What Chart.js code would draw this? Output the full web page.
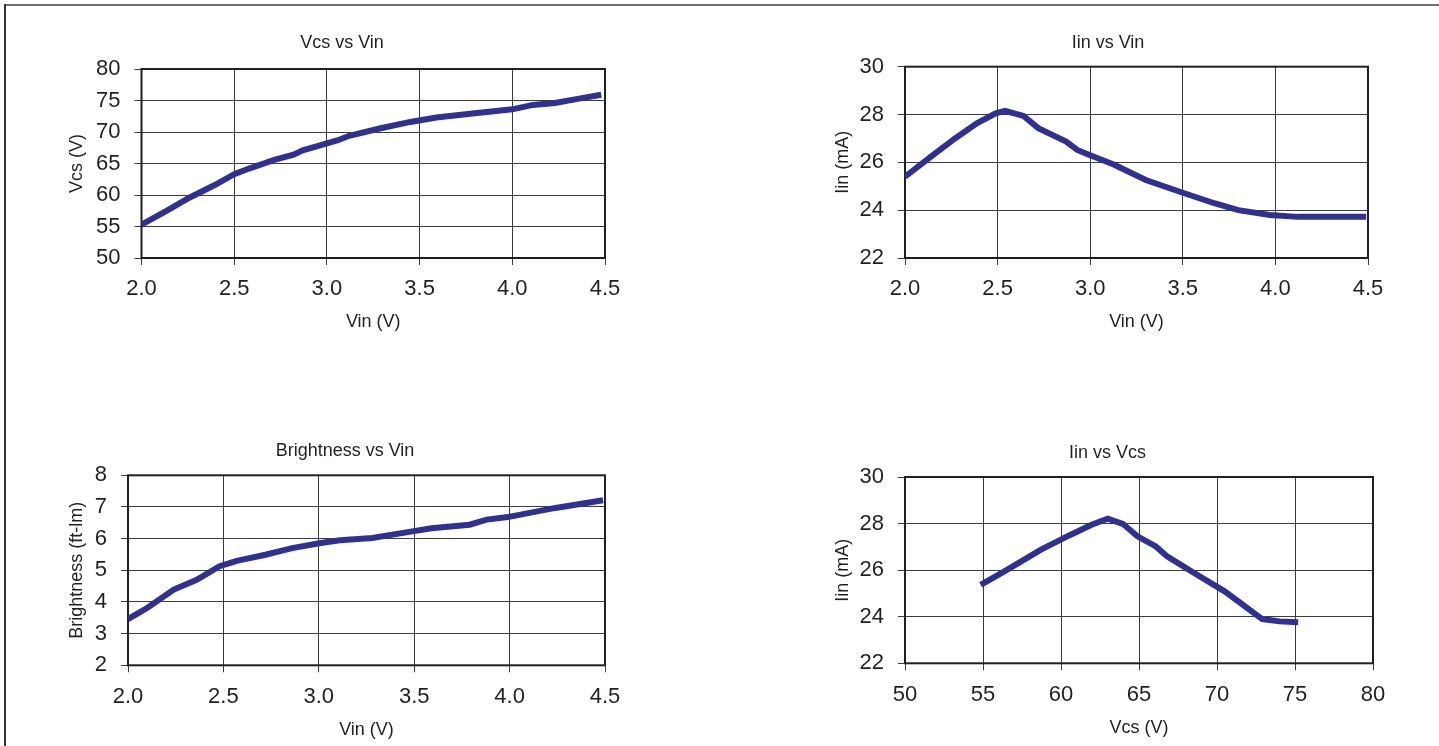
<!DOCTYPE html>
<html>
<head>
<meta charset="utf-8">
<script src="https://cdn.jsdelivr.net/npm/chart.js@4.4.0/dist/chart.umd.min.js"></script>
<style>
  html, body { margin: 0; padding: 0; background: #fff; width: 1439px; height: 746px; overflow: hidden; }
  body { position: relative; }
  .frame-top { position: absolute; left: 4px; top: 4px; width: 1435px; height: 2px; background: #707070; }
  .frame-left { position: absolute; left: 4px; top: 4px; width: 2px; height: 742px; background: #333; }
  .box { position: absolute; }
</style>
</head>
<body>
<div class="frame-top"></div>
<div class="frame-left"></div>
<div class="box" style="left:62px;top:32px;width:560px;height:305px"><canvas id="vcsVin"></canvas></div>
<div class="box" style="left:828px;top:32px;width:560px;height:305px"><canvas id="iinVin"></canvas></div>
<div class="box" style="left:62px;top:440px;width:566px;height:305px"><canvas id="brightVin"></canvas></div>
<div class="box" style="left:828px;top:442px;width:559px;height:301px"><canvas id="iinVcs"></canvas></div>

<script>
// --- data ---
const vin1 = [2.00, 2.13, 2.26, 2.39, 2.50, 2.58, 2.72, 2.82, 2.87, 3.00, 3.06, 3.12, 3.29, 3.45, 3.59, 3.81, 4.00, 4.11, 4.23, 4.36, 4.48];
const vcs1 = [55.3, 57.4, 59.6, 61.5, 63.3, 64.2, 65.6, 66.4, 67.1, 68.2, 68.7, 69.4, 70.6, 71.6, 72.3, 73.0, 73.6, 74.3, 74.6, 75.3, 75.9];

const vin2 = [2.00, 2.14, 2.27, 2.39, 2.49, 2.54, 2.64, 2.72, 2.87, 2.93, 3.00, 3.13, 3.30, 3.50, 3.67, 3.80, 3.97, 4.12, 4.49];
const iin2 = [25.40, 26.24, 27.00, 27.64, 28.05, 28.15, 27.94, 27.43, 26.87, 26.52, 26.30, 25.90, 25.26, 24.73, 24.29, 24.00, 23.80, 23.72, 23.72];

const vin3 = [2.00, 2.10, 2.24, 2.36, 2.48, 2.57, 2.72, 2.86, 3.01, 3.11, 3.28, 3.49, 3.59, 3.79, 3.88, 3.99, 4.24, 4.49];
const bright3 = [3.46, 3.81, 4.39, 4.70, 5.13, 5.30, 5.49, 5.70, 5.86, 5.95, 6.02, 6.23, 6.33, 6.44, 6.60, 6.68, 6.97, 7.21];

const vcs4 = [54.85, 56.37, 58.72, 60.49, 61.96, 62.99, 63.96, 64.90, 66.08, 66.80, 68.72, 70.49, 72.90, 74.00, 75.20];
const iin4 = [25.37, 25.95, 26.88, 27.48, 27.95, 28.21, 27.99, 27.45, 27.02, 26.59, 25.80, 25.09, 23.90, 23.80, 23.76];

// tick labels
const vinTicks = [2.0, 2.5, 3.0, 3.5, 4.0, 4.5];
const vcsTicks = [50, 55, 60, 65, 70, 75, 80];
const iinTicks = [22, 24, 26, 28, 30];
const brightTicks = [2, 3, 4, 5, 6, 7, 8];

const LINE_COLOR = '#2e3192';
const TEXT_COLOR = '#231f20';
const GRID_COLOR = '#3c3c3c';

Chart.defaults.font.family = '"Liberation Sans", Arial, Helvetica, sans-serif';
Chart.defaults.color = TEXT_COLOR;

// black frame round the plot area, under the curve
const plotFrame = {
    id: 'plotFrame',
    beforeDatasetsDraw(chart) {
        const {ctx, chartArea: {left, top, right, bottom}} = chart;
        ctx.save();
        ctx.strokeStyle = TEXT_COLOR;
        ctx.lineWidth = 2;
        ctx.strokeRect(left, top, right - left, bottom - top);
        ctx.restore();
    }
};

function axis(ticks, title, extra) {
    return Object.assign({
        type: 'linear',
        min: ticks[0],
        max: ticks[ticks.length - 1],
        afterBuildTicks: ax => { ax.ticks = ticks.map(v => ({value: v})); },
        grid: {color: GRID_COLOR, lineWidth: 1, tickLength: 7, drawTicks: true},
        border: {display: false},
        title: {display: true, text: title, font: {size: 18}, color: TEXT_COLOR, padding: {top: 4, bottom: 4}}
    }, extra);
}

function buildChart(id, xs, ys, o) {
    return new Chart(document.getElementById(id), {
        type: 'line',
        data: {
            datasets: [{
                data: xs.map((x, i) => ({x: x, y: ys[i]})),
                borderColor: LINE_COLOR,
                borderWidth: 6,
                pointRadius: 0,
                tension: 0,
                fill: false
            }]
        },
        options: {
            responsive: true,
            maintainAspectRatio: false,
            animation: false,
            layout: {padding: 0},
            plugins: {
                legend: {display: false},
                tooltip: {enabled: false},
                title: {
                    display: true,
                    text: o.title,
                    color: TEXT_COLOR,
                    font: {size: 18, weight: 'normal'},
                    padding: {top: 0, bottom: o.titleGap}
                }
            },
            scales: {
                x: axis(o.xTicks, o.xTitle, {
                    ticks: {font: {size: 22}, color: TEXT_COLOR, padding: 11, maxRotation: 0,
                        callback: v => Number(v).toFixed(o.xDec)},
                    afterFit: s => {
                        s.height = o.xAxisHeight;
                        s.paddingLeft = 0;
                        s.paddingRight = o.padRight;
                    }
                }),
                y: axis(o.yTicks, o.yTitle, {
                    ticks: {font: {size: 22}, color: TEXT_COLOR, padding: 14,
                        callback: v => Number(v).toFixed(0)},
                    afterFit: s => { s.width = o.yAxisWidth; }
                })
            }
        },
        plugins: [plotFrame]
    });
}

buildChart('vcsVin', vin1, vcs1, {
    title: 'Vcs vs Vin', xTitle: 'Vin (V)', yTitle: 'Vcs (V)',
    xTicks: vinTicks, yTicks: vcsTicks, xDec: 1,
    titleGap: 15.4, padRight: 17, yAxisWidth: 79.5, xAxisHeight: 79
});

buildChart('iinVin', vin2, iin2, {
    title: 'Iin vs Vin', xTitle: 'Vin (V)', yTitle: 'Iin (mA)',
    xTicks: vinTicks, yTicks: iinTicks, xDec: 1,
    titleGap: 13.1, padRight: 20, yAxisWidth: 77, xAxisHeight: 79
});

buildChart('brightVin', vin3, bright3, {
    title: 'Brightness vs Vin', xTitle: 'Vin (V)', yTitle: 'Brightness (ft-lm)',
    xTicks: vinTicks, yTicks: brightTicks, xDec: 1,
    titleGap: 13.7, padRight: 23, yAxisWidth: 66, xAxisHeight: 79.7
});

buildChart('iinVcs', vcs4, iin4, {
    title: 'Iin vs Vcs', xTitle: 'Vcs (V)', yTitle: 'Iin (mA)',
    xTicks: vcsTicks, yTicks: iinTicks, xDec: 0,
    titleGap: 13.4, padRight: 14, yAxisWidth: 77, xAxisHeight: 79.7
});
</script>
</body>
</html>
